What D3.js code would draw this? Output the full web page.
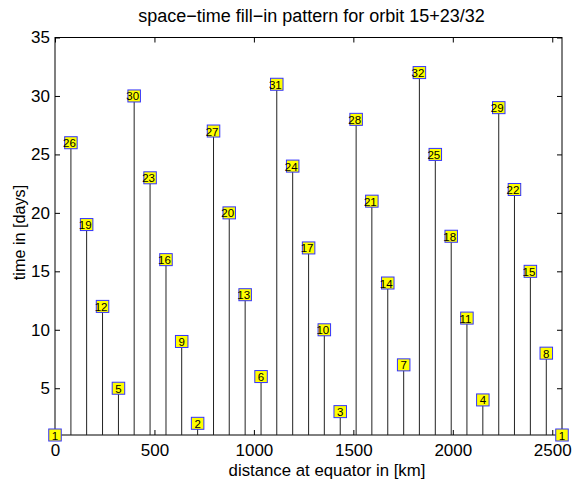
<!DOCTYPE html>
<html>
<head>
<meta charset="utf-8">
<script src="https://cdn.jsdelivr.net/npm/d3@7"></script>
<style>
  body { margin: 0; background: white; }
  text { font-family: "Liberation Sans", Helvetica, Arial, sans-serif; }
</style>
</head>
<body>
<div id="chart"></div>
<script>
// ground track positions at equator (km) and the day each track is flown
let distances = [0, 80, 159, 239, 319, 398, 478, 558, 637, 717, 797, 876, 956, 1036, 1115, 1195,
                 1275, 1354, 1434, 1514, 1593, 1673, 1753, 1832, 1912, 1992, 2071, 2151, 2231, 2310,
                 2390, 2470, 2549];
let days = [1, 26, 19, 12, 5, 30, 23, 16, 9, 2, 27, 20, 13, 6, 31, 24,
            17, 10, 3, 28, 21, 14, 7, 32, 25, 18, 11, 4, 29, 22,
            15, 8, 1];
let xTicks = [0, 500, 1000, 1500, 2000, 2500];
let yTicks = [5, 10, 15, 20, 25, 30, 35];

let w = 575, h = 483;
let padLeft = 55, padRight = 562, padTop = 37.5, padBottom = 435;

let viz = d3.select("#chart").append("svg")
    .attr("width", w)
    .attr("height", h);

let xScale = d3.scaleLinear().domain([0, 2549]).range([padLeft, padRight]);
let yScale = d3.scaleLinear().domain([1, 35]).range([padBottom, padTop]);

// frame
viz.append("rect")
    .attr("x", padLeft).attr("y", padTop)
    .attr("width", padRight - padLeft).attr("height", padBottom - padTop)
    .attr("fill", "none").attr("stroke", "black").attr("stroke-width", 1);

// axes with inward ticks, matlab style
let tickLen = 5;
let xAxis = d3.axisBottom(xScale).tickValues(xTicks).tickSize(-tickLen).tickPadding(8)
    .tickFormat(d3.format("d"));
let xAxisGroup = viz.append("g")
    .attr("transform", "translate(0," + padBottom + ")")
    .call(xAxis);
viz.append("g")
    .attr("transform", "translate(0," + padTop + ")")
    .call(d3.axisTop(xScale).tickValues(xTicks).tickSize(-tickLen).tickFormat(""));
viz.append("g")
    .attr("transform", "translate(" + padLeft + ",0)")
    .call(d3.axisLeft(yScale).tickValues(yTicks).tickSize(-tickLen).tickPadding(5));
viz.append("g")
    .attr("transform", "translate(" + padRight + ",0)")
    .call(d3.axisRight(yScale).tickValues(yTicks).tickSize(-tickLen).tickFormat(""));

viz.selectAll(".domain").remove();
viz.selectAll(".tick text").attr("font-size", 17).attr("fill", "black")
    .style("font-family", "'Liberation Sans', Arial, sans-serif");
xAxisGroup.selectAll(".tick text").attr("dy", "0.75em");

let data = distances.map(function(d, i){
  return { x: d, day: days[i] };
});

// stems
viz.selectAll(".stem").data(data).enter()
  .append("line")
    .attr("class", "stem")
    .attr("x1", function(d){ return xScale(d.x); })
    .attr("x2", function(d){ return xScale(d.x); })
    .attr("y1", yScale(1))
    .attr("y2", function(d){ return yScale(d.day); })
    .attr("stroke", "#222")
    .attr("stroke-width", 1);

// labelled boxes
let boxW = 12.5, boxH = 12;
let labels = viz.selectAll(".lab").data(data).enter()
  .append("g")
    .attr("class", "lab")
    .attr("transform", function(d){
      return "translate(" + xScale(d.x) + "," + yScale(d.day) + ")";
    });
labels.append("rect")
    .attr("x", -boxW / 2).attr("y", -boxH / 2)
    .attr("width", boxW).attr("height", boxH)
    .attr("fill", "#ffff00")
    .attr("stroke", "#3333ff")
    .attr("stroke-width", 1);
labels.append("text")
    .attr("x", function(d){ return d.day > 9 ? -1.5 : 0; })
    .attr("y", 0.5)
    .attr("dy", "0.35em")
    .attr("text-anchor", "middle")
    .attr("font-size", 11.5)
    .attr("fill", "black")
    .text(function(d){ return d.day; });

// title and axis labels
viz.append("text")
    .attr("x", 311.5).attr("y", 22)
    .attr("text-anchor", "middle")
    .attr("font-size", 18)
    .text("space\u2212time fill\u2212in pattern for orbit 15+23/32");
viz.append("text")
    .attr("x", 327).attr("y", 476)
    .attr("text-anchor", "middle")
    .attr("font-size", 16.8)
    .text("distance at equator in [km]");
viz.append("text")
    .attr("transform", "translate(25,232.5) rotate(-90)")
    .attr("text-anchor", "middle")
    .attr("font-size", 16.2)
    .text("time in [days]");
</script>
</body>
</html>
